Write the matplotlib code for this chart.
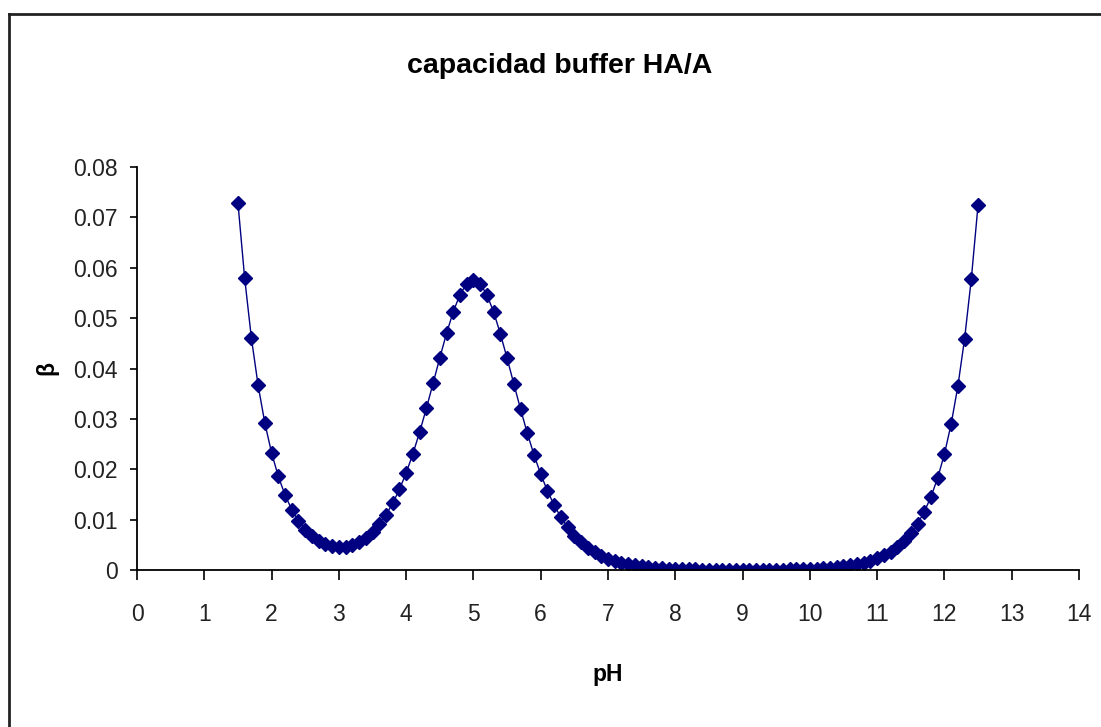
"""
Buffer capacity of HA/A- system vs pH.
"""
import numpy as np
import matplotlib
matplotlib.use('Agg')
import matplotlib.pyplot as plt
from matplotlib.lines import Line2D

plt.rcParams['font.family'] = ['Liberation Sans', 'DejaVu Sans']

# pH points, every 0.1 from 1.5 to 12.5
ph = np.round(np.arange(15, 126) / 10, 1)

# beta
beta = [0.07290, 0.05794, 0.04607, 0.03665, 0.02917, 0.02326, 0.01858, 0.01489,
        0.01200, 0.00975, 0.00800, 0.00669, 0.00573, 0.00508, 0.00470, 0.00456,
        0.00466, 0.00499, 0.00557, 0.00642, 0.00757, 0.00906, 0.01093, 0.01323,
        0.01599, 0.01926, 0.02305, 0.02735, 0.03206, 0.03704, 0.04211, 0.04696,
        0.05127, 0.05467, 0.05685, 0.05760, 0.05684, 0.05464, 0.05123, 0.04691,
        0.04205, 0.03696, 0.03195, 0.02720, 0.02287, 0.01903, 0.01570, 0.01286,
        0.01047, 0.00848, 0.00684, 0.00550, 0.00442, 0.00354, 0.00283, 0.00226,
        0.00180, 0.00144, 0.00114, 0.00091, 0.00072, 0.00058, 0.00046, 0.00036,
        0.00029, 0.00023, 0.00018, 0.00015, 0.00012, 0.000098, 0.000080, 0.000067,
        0.000057, 0.000051, 0.000047, 0.000046, 0.000047, 0.000051, 0.000057,
        0.000067, 0.000080, 0.000098, 0.000120, 0.000149, 0.000186, 0.000232,
        0.000290, 0.000365, 0.000459, 0.000578, 0.000728, 0.000917, 0.00115,
        0.00145, 0.00183, 0.00230, 0.00290, 0.00365, 0.00459, 0.00578, 0.00728,
        0.00917, 0.01154, 0.01453, 0.01829, 0.02303, 0.02899, 0.03650, 0.04595,
        0.05785, 0.07250]

xticks = list(range(0, 15))
yticks = [0, 0.01, 0.02, 0.03, 0.04, 0.05, 0.06, 0.07, 0.08]
ytick_labels = ['0', '0.01', '0.02', '0.03', '0.04', '0.05', '0.06', '0.07', '0.08']

W, H = 1101, 727
fig = plt.figure(figsize=(W/100, H/100), dpi=100)
ax = fig.add_axes([137/W, 1-570/H, (1079-137)/W, (570-167)/H])

ax.plot(ph, beta, color='#000080', lw=1, marker='D', ms=7, mfc='#000080', mec='#000080')

ax.set_xlim(0, 14)
ax.set_ylim(0, 0.08)
ax.set_xticks(xticks)
ax.set_yticks(yticks)
ax.set_yticklabels(ytick_labels)
ax.spines['top'].set_visible(False)
ax.spines['right'].set_visible(False)
for s in ['left', 'bottom']:
    ax.spines[s].set_linewidth(1.3)
ax.tick_params(axis='both', direction='out', width=1.2, labelsize=16.5,
               colors='black', labelcolor='#222222')
ax.tick_params(axis='x', pad=17, length=7)
ax.tick_params(axis='y', pad=9, length=5)

fig.text(560/W, 1-66/H, 'capacidad buffer HA/A', ha='center', va='center',
         fontsize=20.5, fontweight='bold')
fig.text(608/W, 1-674/H, 'pH', ha='center', va='center', fontsize=16.5, fontweight='bold')
fig.text(47/W, 1-368/H, 'β', ha='center', va='center', fontsize=16.5, fontweight='bold',
         rotation=90)

# outer frame (top and left edges)
fig.add_artist(Line2D([9/W, 1], [1-14/H, 1-14/H], color='#222222', lw=2, transform=fig.transFigure))
fig.add_artist(Line2D([9/W, 9/W], [0, 1-14/H], color='#222222', lw=2, transform=fig.transFigure))

plt.savefig('out.png', dpi=100)
